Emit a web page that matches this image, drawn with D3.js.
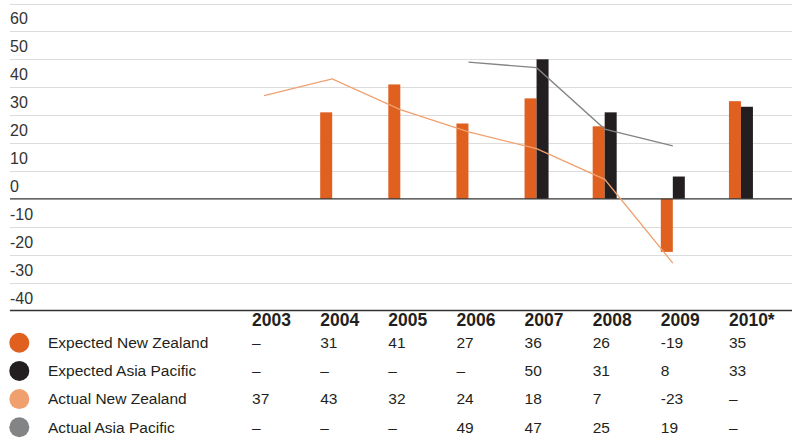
<!DOCTYPE html>
<html>
<head>
<meta charset="utf-8">
<script src="https://cdn.jsdelivr.net/npm/d3@7"></script>
<style>
  html, body { margin: 0; padding: 0; background: #fff; }
  svg { display: block; font-family: "Liberation Sans", Arial, sans-serif; }
</style>
</head>
<body>
<svg id="chart" width="797" height="440"></svg>
<script>
// Survey years and the four series (null = no figure for that year)
const years = ["2003", "2004", "2005", "2006", "2007", "2008", "2009", "2010*"];
const expectedNZ = [null, 31, 41, 27, 36, 26, -19, 35];
const expectedAP = [null, null, null, null, 50, 31, 8, 33];
const actualNZ = [37, 43, 32, 24, 18, 7, -23, null];
const actualAP = [null, null, null, 49, 47, 25, 19, null];
const yTicks = [-40, -30, -20, -10, 0, 10, 20, 30, 40, 50, 60];
const seriesNames = ["Expected New Zealand", "Expected Asia Pacific", "Actual New Zealand", "Actual Asia Pacific"];
const seriesColors = ["#e0601f", "#231f20", "#f0a06e", "#838486"];

const svg = d3.select("#chart");
const left = 10, right = 792;

const x = d3.scaleBand().domain(years).range([230, 775]);
const sub = d3.scaleBand().domain(["nz", "ap"]).range([-12, 12]);
const y = d3.scaleLinear().domain([-40, 70]).range([310.5, 3.5]);
const cx = yr => x(yr) + x.bandwidth() / 2;

// Horizontal gridlines, including an unlabelled line at the top of the range
const gridVals = yTicks.concat([70]).filter(v => v !== 0 && v !== -40);
svg.append("g").selectAll("line").data(gridVals).join("line")
  .attr("x1", left).attr("x2", right)
  .attr("y1", d => Math.round(y(d)) + 0.5).attr("y2", d => Math.round(y(d)) + 0.5)
  .attr("stroke", "#dcdcdc").attr("stroke-width", 1.2);

// Y tick labels sit just above their gridline
svg.append("g").selectAll("text").data(yTicks).join("text")
  .attr("x", left).attr("y", d => y(d) - 7)
  .attr("font-size", 16).attr("fill", "#333")
  .text(d => d);

// Bars
const bars = [];
years.forEach((yr, i) => {
  if (expectedNZ[i] !== null) bars.push({ yr, key: "nz", v: expectedNZ[i], c: seriesColors[0] });
  if (expectedAP[i] !== null) bars.push({ yr, key: "ap", v: expectedAP[i], c: seriesColors[1] });
});
svg.append("g").selectAll("rect").data(bars).join("rect")
  .attr("x", d => cx(d.yr) + sub(d.key))
  .attr("width", sub.bandwidth())
  .attr("y", d => y(Math.max(0, d.v)))
  .attr("height", d => Math.abs(y(d.v) - y(0)))
  .attr("fill", d => d.c);

// Zero line and bottom rule
svg.append("g").selectAll("line").data([0, -40]).join("line")
  .attr("x1", left).attr("x2", right)
  .attr("y1", d => y(d)).attr("y2", d => y(d))
  .attr("stroke", "#333").attr("stroke-width", 1.4);

// Actual lines, drawn over the bars
const line = d3.line()
  .defined(d => d.v !== null)
  .x(d => cx(d.yr)).y(d => y(d.v));
[[actualNZ, seriesColors[2]], [actualAP, seriesColors[3]]].forEach(([vals, col]) => {
  svg.append("path")
    .datum(years.map((yr, i) => ({ yr, v: vals[i] })))
    .attr("d", line)
    .attr("fill", "none").attr("stroke", col).attr("stroke-width", 1.3);
});

// Data table beneath the chart
const colX = yr => cx(yr) - 12;
svg.append("g").selectAll("text").data(years).join("text")
  .attr("x", colX).attr("y", 326)
  .attr("font-size", 17.5).attr("font-weight", "bold").attr("fill", "#231f20")
  .text(d => d);

const tableRows = [expectedNZ, expectedAP, actualNZ, actualAP];
const rowY = [348, 376.2, 404.4, 432.6];
tableRows.forEach((vals, r) => {
  const g = svg.append("g");
  g.append("circle").attr("cx", 19.3).attr("cy", rowY[r] - 5.3).attr("r", 10)
    .attr("fill", seriesColors[r]);
  g.append("text").attr("x", 48).attr("y", rowY[r])
    .attr("font-size", 15.5).attr("fill", "#231f20").text(seriesNames[r]);
  g.selectAll("text.v").data(years).join("text").attr("class", "v")
    .attr("x", colX).attr("y", rowY[r])
    .attr("font-size", 15.5).attr("fill", "#231f20")
    .text((yr, i) => vals[i] === null ? "–" : vals[i]);
});
</script>
</body>
</html>
